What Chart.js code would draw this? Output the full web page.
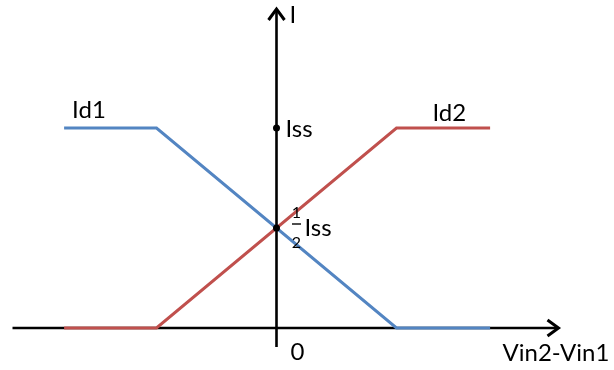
<!DOCTYPE html>
<html>
<head>
<meta charset="utf-8">
<script src="https://cdn.jsdelivr.net/npm/chart.js@4/dist/chart.umd.min.js"></script>
<style>
  html, body { margin: 0; padding: 0; background: #fff; }
  #wrap { width: 614px; height: 370px; position: relative; }
</style>
</head>
<body>
<div id="wrap"><canvas id="c" width="614" height="370"></canvas></div>
<script>
// ---- data ----
const xValues = [-1.77, -1.0, 1.0, 1.78];   // Vin2-Vin1 breakpoints
const id1Values = [1, 1, 0, 0];              // Id1 (in units of Iss)
const id2Values = [0, 0, 1, 1];              // Id2 (in units of Iss)
const markerY = [1, 0.5];                    // Iss and 1/2 Iss on the I axis
const xAxisExtent = [-2.2, 2.35];
const yAxisExtent = [-0.095, 1.595];
const labels = { yTitle: 'I', xTitle: 'Vin2-Vin1', zero: '0', iss: 'Iss', half: 'Iss', s1: 'Id1', s2: 'Id2' };

const FONT = 'Lato, "Open Sans", sans-serif';

const drawPlugin = {
  id: 'axesAndText',
  beforeDatasetsDraw(chart) {
    const ctx = chart.ctx, xs = chart.scales.x, ys = chart.scales.y;
    const x0 = xs.getPixelForValue(0), y0 = ys.getPixelForValue(0);
    const xa = xs.getPixelForValue(xAxisExtent[0]), xb = xs.getPixelForValue(xAxisExtent[1]);
    const ya = ys.getPixelForValue(yAxisExtent[0]), yb = ys.getPixelForValue(yAxisExtent[1]);
    ctx.save();
    ctx.strokeStyle = '#000';
    ctx.lineWidth = 2.6;
    ctx.lineCap = 'butt';
    ctx.beginPath();
    ctx.moveTo(xa, y0); ctx.lineTo(xb - 1, y0);
    ctx.moveTo(x0, ya); ctx.lineTo(x0, yb + 1);
    ctx.stroke();
    // arrow heads
    ctx.lineWidth = 3;
    ctx.lineJoin = 'miter';
    ctx.beginPath();
    ctx.moveTo(xb - 11, y0 - 8); ctx.lineTo(xb, y0); ctx.lineTo(xb - 11, y0 + 8);
    ctx.moveTo(x0 - 8, yb + 11); ctx.lineTo(x0, yb); ctx.lineTo(x0 + 8, yb + 11);
    ctx.stroke();
    ctx.restore();
  },
  afterDatasetsDraw(chart) {
    const ctx = chart.ctx, xs = chart.scales.x, ys = chart.scales.y;
    const x0 = xs.getPixelForValue(0), y0 = ys.getPixelForValue(0);
    ctx.save();
    ctx.fillStyle = '#000';
    ctx.textBaseline = 'alphabetic';
    ctx.textAlign = 'left';
    ctx.font = '24px ' + FONT;
    const yTop = ys.getPixelForValue(yAxisExtent[1]);
    ctx.fillText(labels.yTitle, x0 + 13, yTop + 14);
    const yIss = ys.getPixelForValue(markerY[0]);
    ctx.fillText(labels.iss, x0 + 9, yIss + 9);
    const yHalf = ys.getPixelForValue(markerY[1]);
    ctx.fillText(labels.half, x0 + 28, yHalf + 8);
    ctx.fillText(labels.zero, x0 + 14, y0 + 32);
    ctx.fillText(labels.xTitle, xs.getPixelForValue(xAxisExtent[1]) - 56, y0 + 33);
    ctx.fillText(labels.s1, xs.getPixelForValue(xValues[0]) + 8, ys.getPixelForValue(id1Values[0]) - 10);
    ctx.fillText(labels.s2, xs.getPixelForValue(xValues[2]) + 36, ys.getPixelForValue(id2Values[2]) - 7);
    // fraction 1/2
    ctx.font = '16px ' + FONT;
    ctx.textAlign = 'center';
    const fx = x0 + 20;
    ctx.fillText('1', fx, yHalf - 10);
    ctx.fillText('2', fx, yHalf + 20);
    ctx.lineWidth = 1.4;
    ctx.beginPath();
    ctx.moveTo(fx - 4.5, yHalf - 4); ctx.lineTo(fx + 4.5, yHalf - 4);
    ctx.stroke();
    ctx.restore();
  }
};

new Chart(document.getElementById('c'), {
  type: 'line',
  data: {
    datasets: [
      {
        label: 'Id1',
        data: xValues.map((x, i) => ({ x, y: id1Values[i] })),
        borderColor: '#5385C2',
        borderWidth: 3,
        pointRadius: 0,
        tension: 0,
        order: 2
      },
      {
        label: 'Id2',
        data: xValues.map((x, i) => ({ x, y: id2Values[i] })),
        borderColor: '#C0504D',
        borderWidth: 3,
        pointRadius: 0,
        tension: 0,
        order: 1
      },
      {
        label: 'markers',
        data: markerY.map(y => ({ x: 0, y })),
        showLine: false,
        pointRadius: 3.5,
        pointBackgroundColor: '#000',
        pointBorderColor: '#000',
        pointBorderWidth: 0,
        order: 0
      }
    ]
  },
  options: {
    responsive: false,
    animation: false,
    devicePixelRatio: 1,
    layout: { padding: 0, autoPadding: false },
    plugins: { legend: { display: false }, tooltip: { enabled: false } },
    events: [],
    scales: {
      x: { type: 'linear', display: false, min: -276.5 / 120, max: (614 - 276.5) / 120 },
      y: { type: 'linear', display: false, min: -42 / 200, max: 328 / 200 }
    }
  },
  plugins: [drawPlugin]
});
</script>
</body>
</html>
